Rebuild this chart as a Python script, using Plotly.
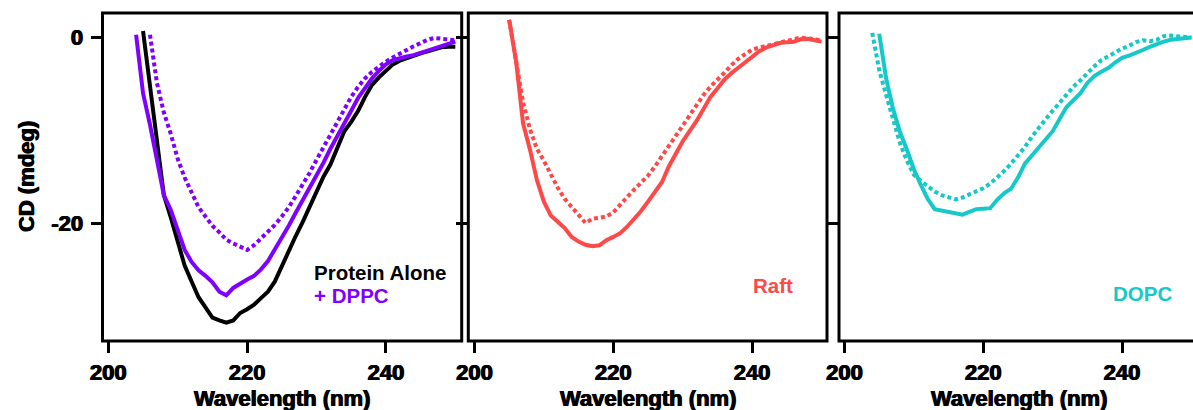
import plotly.graph_objects as go

# ---- CD spectra (wavelength in nm, signal in mdeg) ----
wl_alone = list(range(205, 251))
cd_alone = [0.7, -5.2, -11.3, -17.0, -19.4, -22.1, -24.6, -26.3, -28.0, -29.1,
            -30.2, -30.5, -30.75, -30.5, -29.7, -29.3, -28.8, -28.1, -27.4, -26.3,
            -24.6, -22.9, -21.4, -19.9, -18.3, -16.6, -15.0, -13.7, -12.0, -10.1,
            -9.1, -7.9, -6.4, -5.1, -4.3, -3.6, -2.9, -2.5, -2.2, -1.9,
            -1.7, -1.5, -1.3, -1.05, -1.0, -1.0]

wl_dppc = list(range(204, 251))
cd_dppc = [0.3, -6.0, -9.4, -13.1, -17.0, -18.6, -20.7, -22.9, -24.2, -25.1,
           -25.7, -26.4, -27.4, -27.8, -27.0, -26.5, -26.1, -25.7, -25.0, -24.1,
           -22.9, -21.6, -20.3, -18.9, -17.6, -16.3, -15.0, -13.5, -12.0, -10.7,
           -9.3, -7.9, -6.5, -5.4, -4.4, -3.6, -2.9, -2.45, -2.2, -2.05,
           -1.9, -1.65, -1.4, -1.15, -0.95, -0.7, -0.45]

wl_dppc_dot = list(range(206, 251))
cd_dppc_dot = [0.3, -4.9, -8.1, -10.4, -13.1, -15.1, -16.7, -18.3, -19.3, -20.3,
               -21.0, -21.8, -22.2, -22.55, -22.9, -22.4, -21.7, -21.0, -20.2, -19.3,
               -18.3, -17.1, -15.9, -14.6, -13.2, -11.8, -10.4, -9.0, -7.7, -6.4,
               -5.3, -4.4, -3.7, -3.1, -2.6, -2.15, -1.7, -1.35, -0.95, -0.55,
               -0.25, -0.05, -0.1, -0.2, -0.3]

wl_raft = list(range(205, 251))
cd_raft = [1.9, -2.6, -9.25, -12.1, -15.4, -17.7, -19.2, -19.85, -20.55, -21.5,
           -22.0, -22.35, -22.5, -22.4, -21.85, -21.5, -21.1, -20.4, -19.6, -18.7,
           -17.7, -16.7, -15.6, -13.9, -12.5, -11.2, -10.1, -9.0, -7.7, -6.4,
           -5.5, -4.55, -3.85, -3.25, -2.7, -2.1, -1.5, -1.1, -0.85, -0.6,
           -0.5, -0.45, -0.2, -0.15, -0.3, -0.45]

wl_raft_dot = list(range(205, 251))
cd_raft_dot = [1.9, -2.3, -7.0, -9.9, -12.0, -13.3, -14.8, -16.2, -17.4, -18.3,
               -19.2, -20.0, -19.55, -19.4, -19.3, -18.85, -18.1, -17.2, -16.4, -15.7,
               -14.9, -13.9, -12.8, -11.6, -10.5, -9.4, -8.3, -7.2, -6.2, -5.3,
               -4.6, -3.8, -3.0, -2.3, -1.8, -1.3, -1.1, -0.9, -0.7, -0.5,
               -0.3, -0.15, 0.0, -0.1, -0.2, -0.3]

wl_dopc = list(range(205, 251))
cd_dopc = [0.4, -4.4, -7.7, -10.2, -12.1, -14.2, -15.9, -17.4, -18.5, -18.65,
           -18.8, -18.9, -19.1, -18.8, -18.5, -18.45, -18.4, -17.5, -16.8, -16.3,
           -15.1, -13.6, -12.7, -11.95, -11.0, -10.1, -8.8, -7.5, -6.75, -6.0,
           -4.9, -4.15, -3.7, -3.3, -2.7, -2.2, -1.95, -1.7, -1.35, -1.0,
           -0.7, -0.45, -0.25, -0.15, -0.05, 0.0]

wl_dopc_dot = list(range(204, 251))
cd_dopc_dot = [0.5, -3.5, -6.2, -8.8, -11.4, -13.3, -14.8, -15.45, -16.05, -16.6,
               -17.0, -17.2, -17.45, -17.25, -16.95, -16.6, -16.25, -15.75, -15.1, -14.4,
               -13.6, -12.75, -11.8, -10.7, -9.7, -8.8, -7.9, -7.0, -6.1, -5.3,
               -4.6, -3.8, -3.1, -2.45, -2.0, -1.6, -1.2, -0.9, -0.5, -0.3,
               -0.4, -0.25, 0.15, 0.2, 0.1, 0.05, 0.0]

x_ticks = [200, 220, 240]
x_tick_text = ["200", "220", "240"]
y_ticks = [0, -20]
y_tick_text = ["0", "-20"]

BLACK = "#000000"
PURPLE = "#7F00FF"
RED = "#FF4848"
CYAN = "#17C8C8"
FONT = "Liberation Sans, Arial, sans-serif"

W, H = 1193, 410
LW = 4
DOT = "4px,3px"
# a thin same-colour halo makes the bold labels a little heavier
HEAVY = "0.6px 0 0 black, -0.6px 0 0 black"

fig = go.Figure()

def line(x, y, color, dotted, xa, ya):
    fig.add_trace(go.Scatter(
        x=x, y=y, mode="lines", xaxis=xa, yaxis=ya, showlegend=False,
        line=dict(color=color, width=LW, dash=DOT if dotted else "solid"),
    ))

line(wl_dppc_dot, cd_dppc_dot, PURPLE, True, "x", "y")
line(wl_alone, cd_alone, BLACK, False, "x", "y")
line(wl_dppc, cd_dppc, PURPLE, False, "x", "y")
line(wl_raft_dot, cd_raft_dot, RED, True, "x2", "y2")
line(wl_raft, cd_raft, RED, False, "x2", "y2")
line(wl_dopc_dot, cd_dopc_dot, CYAN, True, "x3", "y3")
line(wl_dopc, cd_dopc, CYAN, False, "x3", "y3")

# panel geometry in pixels
panels_px = [(102.5, 461.7), (468.3, 827.0), (839.0, 1193.0)]
x_ranges = [[199.16, 250.92], [199.11, 250.79], [199.21, 250.22]]
y_range = [-32.72, 2.64]
y_dom = [1 - 341 / H, 1 - 13 / H]

tick_font = dict(family=FONT, size=22, color="black", weight="bold", shadow=HEAVY)

axes = {}
for i, ((l, r), xr) in enumerate(zip(panels_px, x_ranges)):
    sfx = "" if i == 0 else str(i + 1)
    axes["xaxis" + sfx] = dict(
        domain=[l / W, r / W], range=xr, anchor="y" + sfx, automargin=False,
        showgrid=False, zeroline=False, showline=False,
        tickmode="array", tickvals=x_ticks, ticktext=x_tick_text,
        ticks="outside", ticklen=11, tickwidth=3, tickcolor="black",
        tickfont=tick_font, ticklabelstandoff=1,
    )
    axes["yaxis" + sfx] = dict(
        domain=y_dom, range=y_range, anchor="x" + sfx, automargin=False,
        showgrid=False, zeroline=False, showline=False,
        tickmode="array", tickvals=y_ticks, ticktext=y_tick_text,
        ticks="outside", ticklen=11, tickwidth=3, tickcolor="black",
        tickfont=tick_font, showticklabels=(i == 0), ticklabelstandoff=3,
    )

shapes = []
for i in range(3):
    sfx = "" if i == 0 else str(i + 1)
    shapes.append(dict(
        type="rect", xref=("x" + sfx + " domain"), yref=("y" + sfx + " domain"),
        x0=0, x1=(1 if i < 2 else 1.05), y0=0, y1=1,
        line=dict(color="black", width=3), fillcolor="rgba(0,0,0,0)", layer="above",
    ))

title_font = dict(family=FONT, size=22, color="black", weight="bold", shadow=HEAVY)
annotations = []
for (l, r) in panels_px[:2] + [(839.0, 1198.0)]:
    annotations.append(dict(
        text="Wavelength (nm)", x=(l + r) / 2 / W, y=1 - 398 / H,
        xref="paper", yref="paper", xanchor="center", yanchor="middle",
        showarrow=False, font=title_font,
    ))
annotations.append(dict(
    text="CD (mdeg)", x=27 / W, y=1 - 177 / H, textangle=-90,
    xref="paper", yref="paper", xanchor="center", yanchor="middle",
    showarrow=False, font=title_font,
))

for text, color, px, py, anchor in [
    ("Protein Alone", BLACK, 311.7, 272, "left"),
    ("+ DPPC", PURPLE, 311.7, 295, "left"),
    ("Raft", RED, 773, 285, "center"),
    ("DOPC", CYAN, 1142, 293, "center"),
]:
    annotations.append(dict(
        text=text, x=px / W, y=1 - py / H, xref="paper", yref="paper",
        xanchor=anchor, yanchor="middle", showarrow=False,
        font=dict(family=FONT, size=20.5, weight="bold", color=color),
    ))

fig.update_layout(
    width=W, height=H, margin=dict(l=0, r=0, t=0, b=0),
    paper_bgcolor="white", plot_bgcolor="white",
    shapes=shapes, annotations=annotations, **axes,
)

fig.write_html("out.html")
